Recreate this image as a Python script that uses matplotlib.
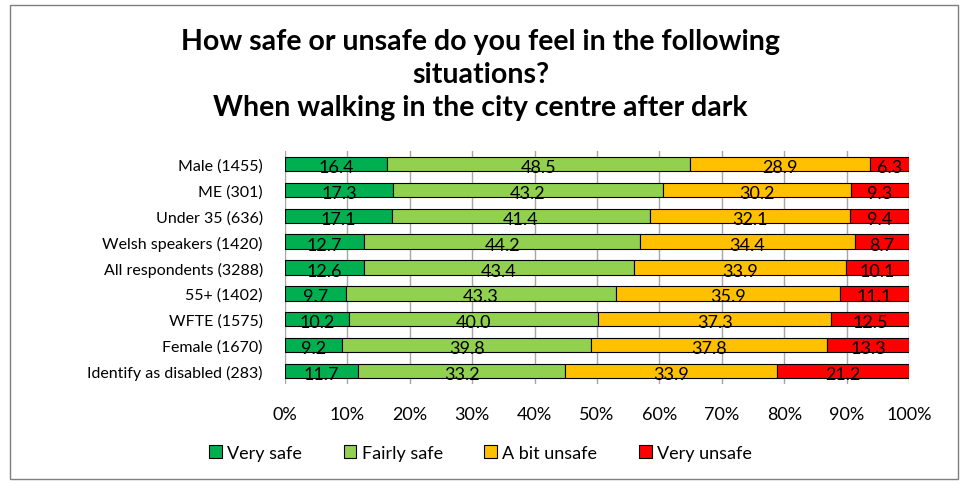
import matplotlib.pyplot as plt
from matplotlib.patches import Rectangle

plt.rcParams['font.family'] = ['Lato', 'DejaVu Sans']

groups = ['Male (1455)', 'ME (301)', 'Under 35 (636)', 'Welsh speakers (1420)',
          'All respondents (3288)', '55+ (1402)', 'WFTE (1575)', 'Female (1670)',
          'Identify as disabled (283)']
very_safe = [16.4, 17.3, 17.1, 12.7, 12.6, 9.7, 10.2, 9.2, 11.7]
fairly_safe = [48.5, 43.2, 41.4, 44.2, 43.4, 43.3, 40.0, 39.8, 33.2]
bit_unsafe = [28.9, 30.2, 32.1, 34.4, 33.9, 35.9, 37.3, 37.8, 33.9]
very_unsafe = [6.3, 9.3, 9.4, 8.7, 10.1, 11.1, 12.5, 13.3, 21.2]

series = [('Very safe', very_safe, '#00b050'),
          ('Fairly safe', fairly_safe, '#92d050'),
          ('A bit unsafe', bit_unsafe, '#ffc000'),
          ('Very unsafe', very_unsafe, '#ff0000')]

fig = plt.figure(figsize=(9.61, 4.85), dpi=100)
fig.patches.append(Rectangle((10 / 961, 5 / 485), 948 / 961, 474 / 485,
                             transform=fig.transFigure, fill=False,
                             edgecolor='#7f7f7f', linewidth=1))
ax = fig.add_axes([285 / 961, 1 - 385 / 485, 624 / 961, 233 / 485])

y = list(range(len(groups)))
left = [0.0] * len(groups)
for name, vals, col in series:
    bars = ax.barh(y, vals, left=left, height=0.55, color=col,
                   edgecolor='black', linewidth=0.8, label=name, zorder=3)
    for b, v in zip(bars, vals):
        ax.text(b.get_x() + b.get_width() / 2, b.get_y() + b.get_height() / 2 + 0.12,
                '%.1f' % v, ha='center', va='center', fontsize=13, zorder=4)
    left = [l + v for l, v in zip(left, vals)]

ax.set_xlim(0, 100)
ax.set_ylim(len(groups) - 0.5, -0.5)
ax.set_yticks(y)
ax.set_yticklabels(groups, fontsize=11.5)
ax.set_xticks(range(0, 101, 10))
ax.set_xticklabels(['%d%%' % t for t in range(0, 101, 10)], fontsize=13)
ax.tick_params(length=0)
ax.tick_params(axis='y', pad=16)
ax.tick_params(axis='x', pad=16)
ax.grid(axis='x', color='#a6a6a6', linewidth=1, zorder=0)
for s in ax.spines.values():
    s.set_visible(False)

fig.text(0.5, 1 - 42 / 485, 'How safe or unsafe do you feel in the following',
         ha='center', va='center', fontsize=20.5, fontweight='bold')
fig.text(0.5, 1 - 75 / 485, 'situations?',
         ha='center', va='center', fontsize=20.5, fontweight='bold')
fig.text(0.5, 1 - 108 / 485, 'When walking in the city centre after dark',
         ha='center', va='center', fontsize=20.5, fontweight='bold')

fig.legend(loc='center', bbox_to_anchor=(0.5, 1 - 454 / 485), ncol=4,
           frameon=False, fontsize=13, handlelength=0.7, handleheight=0.7,
           handletextpad=0.3, columnspacing=2.3)

fig.savefig('out.png', dpi=100)
